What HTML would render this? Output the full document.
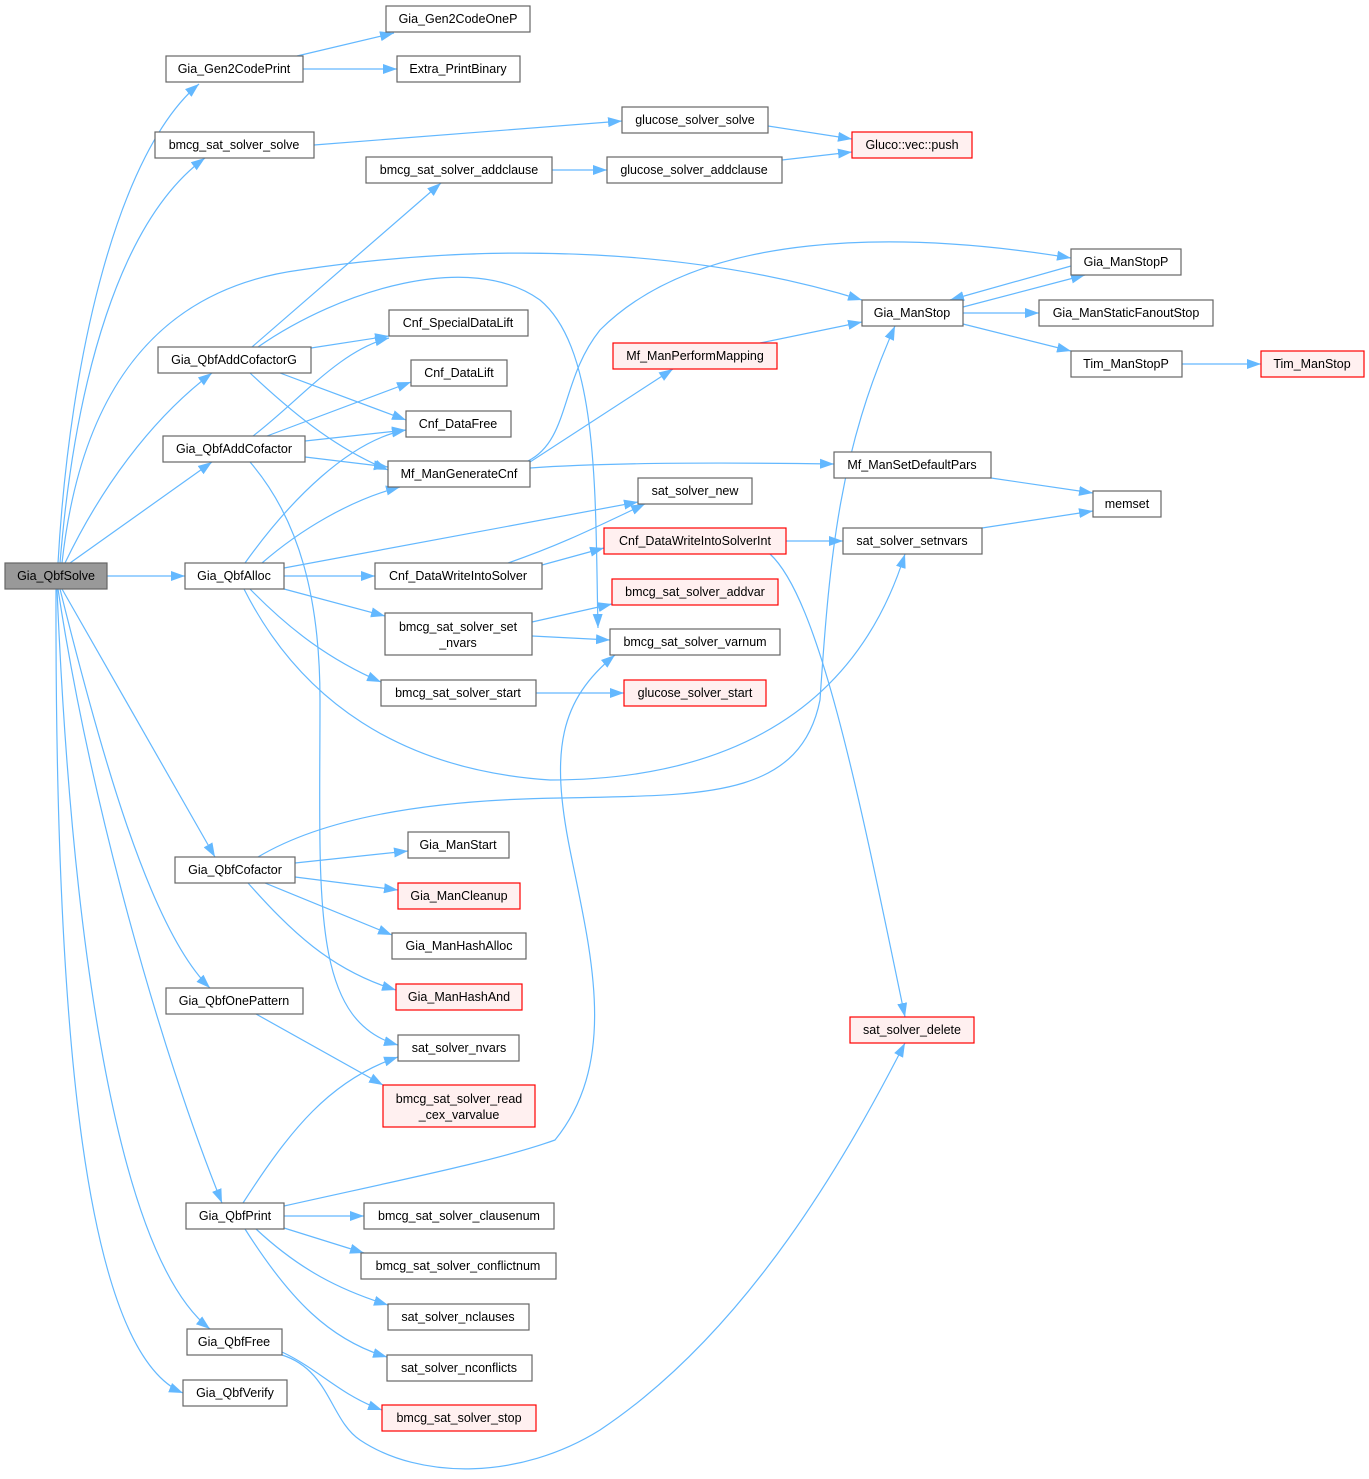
<!DOCTYPE html>
<html><head><meta charset="utf-8"><style>
html,body{margin:0;padding:0;background:#fff}
svg{display:block}
text{font-family:"Liberation Sans",Arial,sans-serif;font-size:12.5px;fill:#000}
.e{fill:none;stroke:#63b8ff;stroke-width:1.2}
.n rect{fill:#fff;stroke:#666;stroke-width:1.2}
.r rect{fill:#fff0f0;stroke:#f00;stroke-width:1.2}
.g rect{fill:#999;stroke:#666;stroke-width:1.2}
</style></head><body>
<svg width="1369" height="1479" viewBox="0 0 1369 1479" xmlns="http://www.w3.org/2000/svg">
<defs><marker id="a" markerWidth="15" markerHeight="12" refX="14" refY="6" orient="auto" markerUnits="userSpaceOnUse"><path d="M0,1 L14,6 L0,11 Z" fill="#63b8ff"/></marker></defs>
<g class="e" marker-end="url(#a)">
<path d="M58,563 C70,350 120,150 199,84"/>
<path d="M60,563 C75,380 120,220 205,158"/>
<path d="M62,563 C80,400 150,290 300,270 C500,240 700,250 862,300"/>
<path d="M65,563 C100,490 150,420 212,373"/>
<path d="M70,563 L212,462"/>
<path d="M107,576 L185,576"/>
<path d="M62,589 L215,857"/>
<path d="M60,589 C100,750 150,930 210,988"/>
<path d="M58,589 C90,800 160,1050 222,1203"/>
<path d="M57,589 C70,900 110,1250 210,1329"/>
<path d="M56,589 C55,1000 80,1350 183,1393"/>
<path d="M297,56 L394,33"/>
<path d="M303,69 L397,69"/>
<path d="M314,145 L622,121"/>
<path d="M768,126 L852,139"/>
<path d="M552,170 L607,170"/>
<path d="M782,160 L852,152"/>
<path d="M252,347 L441,183"/>
<path d="M258,347 C340,290 470,250 540,300 C600,350 595,500 598,628"/>
<path d="M311,348 L389,336"/>
<path d="M280,373 L406,420"/>
<path d="M250,373 C300,420 340,450 388,470"/>
<path d="M253,436 C300,400 340,350 389,338"/>
<path d="M267,436 L411,382"/>
<path d="M305,441 L406,430"/>
<path d="M305,457 L388,467"/>
<path d="M250,462 C300,520 320,600 320,700 C320,900 310,1020 398,1045"/>
<path d="M245,563 C290,500 350,440 406,430"/>
<path d="M262,563 C300,530 350,500 400,487"/>
<path d="M284,568 L638,502"/>
<path d="M284,576 L375,576"/>
<path d="M284,589 L385,616"/>
<path d="M250,589 C290,630 330,660 381,682"/>
<path d="M244,589 C300,700 400,770 550,780 C700,780 850,730 905,554"/>
<path d="M528,461 C570,440 560,380 600,330 C700,230 900,230 1071,258"/>
<path d="M530,462 L673,369"/>
<path d="M530,468 C600,463 700,462 834,464"/>
<path d="M760,343 L862,322"/>
<path d="M963,307 L1085,275"/>
<path d="M1071,266 L950,300"/>
<path d="M963,313 L1039,313"/>
<path d="M963,324 L1071,351"/>
<path d="M1182,364 L1261,364"/>
<path d="M991,478 L1093,493"/>
<path d="M982,528 L1093,511"/>
<path d="M508,563 C560,545 590,530 645,504"/>
<path d="M542,565 L604,548"/>
<path d="M786,541 L843,541"/>
<path d="M770,554 C820,600 860,800 905,1017"/>
<path d="M532,622 L612,604"/>
<path d="M532,636 L610,640"/>
<path d="M536,693 L624,693"/>
<path d="M258,857 C320,820 420,800 560,798 C700,795 800,800 820,700 C830,550 840,450 895,326"/>
<path d="M295,863 L408,851"/>
<path d="M295,877 L398,890"/>
<path d="M265,883 L392,935"/>
<path d="M248,883 C290,930 330,970 396,990"/>
<path d="M256,1014 L383,1085"/>
<path d="M243,1203 C290,1130 330,1080 398,1057"/>
<path d="M284,1206 C400,1180 500,1160 555,1140 C620,1060 590,950 570,850 C550,750 560,700 615,655"/>
<path d="M284,1216 L364,1216"/>
<path d="M284,1228 L364,1253"/>
<path d="M256,1229 C300,1270 340,1290 388,1305"/>
<path d="M245,1229 C290,1300 330,1340 387,1357"/>
<path d="M282,1352 C320,1370 340,1395 382,1410"/>
<path d="M282,1355 C330,1370 330,1420 360,1440 C420,1480 520,1480 600,1430 C750,1330 850,1150 905,1043"/>
</g>
<g text-anchor="middle">
<g class="g"><rect x="5" y="563" width="102" height="26"/><text x="56" y="580">Gia_QbfSolve</text></g>
<g class="n"><rect x="386" y="6" width="144" height="26"/><text x="458" y="23">Gia_Gen2CodeOneP</text></g>
<g class="n"><rect x="166" y="56" width="137" height="26"/><text x="234" y="73">Gia_Gen2CodePrint</text></g>
<g class="n"><rect x="397" y="56" width="123" height="26"/><text x="458" y="73">Extra_PrintBinary</text></g>
<g class="n"><rect x="622" y="107" width="146" height="26"/><text x="695" y="124">glucose_solver_solve</text></g>
<g class="n"><rect x="155" y="132" width="159" height="26"/><text x="234" y="149">bmcg_sat_solver_solve</text></g>
<g class="r"><rect x="852" y="132" width="120" height="26"/><text x="912" y="149">Gluco::vec::push</text></g>
<g class="n"><rect x="366" y="157" width="186" height="26"/><text x="459" y="174">bmcg_sat_solver_addclause</text></g>
<g class="n"><rect x="607" y="157" width="175" height="26"/><text x="694" y="174">glucose_solver_addclause</text></g>
<g class="n"><rect x="1071" y="249" width="110" height="26"/><text x="1126" y="266">Gia_ManStopP</text></g>
<g class="n"><rect x="862" y="300" width="101" height="26"/><text x="912" y="317">Gia_ManStop</text></g>
<g class="n"><rect x="1039" y="300" width="174" height="26"/><text x="1126" y="317">Gia_ManStaticFanoutStop</text></g>
<g class="n"><rect x="389" y="310" width="139" height="26"/><text x="458" y="327">Cnf_SpecialDataLift</text></g>
<g class="r"><rect x="613" y="343" width="164" height="26"/><text x="695" y="360">Mf_ManPerformMapping</text></g>
<g class="n"><rect x="158" y="347" width="153" height="26"/><text x="234" y="364">Gia_QbfAddCofactorG</text></g>
<g class="n"><rect x="1071" y="351" width="111" height="26"/><text x="1126" y="368">Tim_ManStopP</text></g>
<g class="r"><rect x="1261" y="351" width="103" height="26"/><text x="1312" y="368">Tim_ManStop</text></g>
<g class="n"><rect x="411" y="360" width="96" height="26"/><text x="459" y="377">Cnf_DataLift</text></g>
<g class="n"><rect x="406" y="411" width="105" height="26"/><text x="458" y="428">Cnf_DataFree</text></g>
<g class="n"><rect x="163" y="436" width="142" height="26"/><text x="234" y="453">Gia_QbfAddCofactor</text></g>
<g class="n"><rect x="834" y="452" width="157" height="26"/><text x="912" y="469">Mf_ManSetDefaultPars</text></g>
<g class="n"><rect x="388" y="461" width="142" height="26"/><text x="459" y="478">Mf_ManGenerateCnf</text></g>
<g class="n"><rect x="638" y="478" width="114" height="26"/><text x="695" y="495">sat_solver_new</text></g>
<g class="n"><rect x="1093" y="491" width="68" height="26"/><text x="1127" y="508">memset</text></g>
<g class="r"><rect x="604" y="528" width="182" height="26"/><text x="695" y="545">Cnf_DataWriteIntoSolverInt</text></g>
<g class="n"><rect x="843" y="528" width="139" height="26"/><text x="912" y="545">sat_solver_setnvars</text></g>
<g class="n"><rect x="185" y="563" width="99" height="26"/><text x="234" y="580">Gia_QbfAlloc</text></g>
<g class="n"><rect x="375" y="563" width="167" height="26"/><text x="458" y="580">Cnf_DataWriteIntoSolver</text></g>
<g class="r"><rect x="612" y="579" width="166" height="26"/><text x="695" y="596">bmcg_sat_solver_addvar</text></g>
<g class="n"><rect x="385" y="613" width="147" height="42"/><text x="458" y="631">bmcg_sat_solver_set</text><text x="458" y="647">_nvars</text></g>
<g class="n"><rect x="610" y="629" width="170" height="26"/><text x="695" y="646">bmcg_sat_solver_varnum</text></g>
<g class="n"><rect x="381" y="680" width="155" height="26"/><text x="458" y="697">bmcg_sat_solver_start</text></g>
<g class="r"><rect x="624" y="680" width="142" height="26"/><text x="695" y="697">glucose_solver_start</text></g>
<g class="n"><rect x="408" y="832" width="101" height="26"/><text x="458" y="849">Gia_ManStart</text></g>
<g class="n"><rect x="175" y="857" width="120" height="26"/><text x="235" y="874">Gia_QbfCofactor</text></g>
<g class="r"><rect x="398" y="883" width="122" height="26"/><text x="459" y="900">Gia_ManCleanup</text></g>
<g class="n"><rect x="392" y="933" width="134" height="26"/><text x="459" y="950">Gia_ManHashAlloc</text></g>
<g class="r"><rect x="396" y="984" width="126" height="26"/><text x="459" y="1001">Gia_ManHashAnd</text></g>
<g class="n"><rect x="166" y="988" width="137" height="26"/><text x="234" y="1005">Gia_QbfOnePattern</text></g>
<g class="r"><rect x="850" y="1017" width="124" height="26"/><text x="912" y="1034">sat_solver_delete</text></g>
<g class="n"><rect x="398" y="1035" width="121" height="26"/><text x="459" y="1052">sat_solver_nvars</text></g>
<g class="r"><rect x="383" y="1085" width="152" height="42"/><text x="459" y="1103">bmcg_sat_solver_read</text><text x="459" y="1119">_cex_varvalue</text></g>
<g class="n"><rect x="186" y="1203" width="98" height="26"/><text x="235" y="1220">Gia_QbfPrint</text></g>
<g class="n"><rect x="364" y="1203" width="190" height="26"/><text x="459" y="1220">bmcg_sat_solver_clausenum</text></g>
<g class="n"><rect x="361" y="1253" width="195" height="26"/><text x="458" y="1270">bmcg_sat_solver_conflictnum</text></g>
<g class="n"><rect x="388" y="1304" width="141" height="26"/><text x="458" y="1321">sat_solver_nclauses</text></g>
<g class="n"><rect x="187" y="1329" width="95" height="26"/><text x="234" y="1346">Gia_QbfFree</text></g>
<g class="n"><rect x="387" y="1355" width="145" height="26"/><text x="459" y="1372">sat_solver_nconflicts</text></g>
<g class="n"><rect x="183" y="1380" width="104" height="26"/><text x="235" y="1397">Gia_QbfVerify</text></g>
<g class="r"><rect x="382" y="1405" width="154" height="26"/><text x="459" y="1422">bmcg_sat_solver_stop</text></g>
</g>
</svg>
</body></html>
